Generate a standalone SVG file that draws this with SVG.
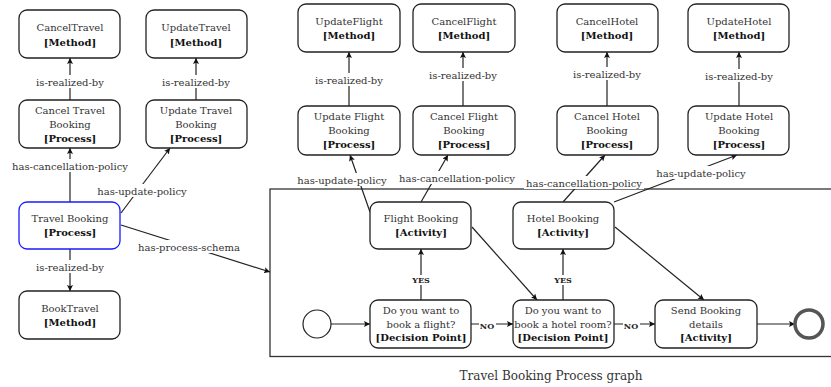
<svg xmlns="http://www.w3.org/2000/svg" width="831" height="387" viewBox="0 0 831 387">
<style>
.n rect{fill:#fff;stroke:#222;stroke-width:1.3}
.t{font-family:"DejaVu Serif",serif;font-size:10px;fill:#333;text-anchor:middle}
.b{font-weight:bold;fill:#111}
.l{font-family:"DejaVu Serif",serif;font-size:10px;fill:#333;text-anchor:middle}
.yn{font-family:"DejaVu Serif",serif;font-size:8px;font-weight:bold;fill:#222;text-anchor:middle}
.c line{stroke:#222;stroke-width:1.2;marker-end:url(#a)}
.bg{fill:#fff}
</style>
<defs>
<marker id="a" viewBox="0 0 10 10" refX="10" refY="5" markerWidth="6" markerHeight="6" orient="auto" markerUnits="userSpaceOnUse"><path d="M0,0 L10,5 L0,10 L2,5 z" fill="#111"/></marker>
</defs>
<g id="process-graph"><rect x="270" y="189" width="580" height="167.5" fill="none" stroke="#333" stroke-width="1.3"/>
<text class="t" x="551" y="380" style="font-size:12px">Travel Booking Process graph</text></g>
<g class="c" id="connectors">
<line x1="70" y1="100" x2="70" y2="58"/>
<line x1="196" y1="100" x2="196" y2="58"/>
<line x1="70" y1="202" x2="70" y2="148"/>
<line x1="121" y1="213" x2="170" y2="148"/>
<line x1="70" y1="249" x2="70" y2="291"/>
<line x1="121" y1="225" x2="270" y2="272"/>
<line x1="349" y1="106" x2="349" y2="52"/>
<line x1="463" y1="106" x2="463" y2="52"/>
<line x1="370" y1="212" x2="350" y2="155"/>
<line x1="421" y1="202" x2="448" y2="155"/>
<line x1="607" y1="106" x2="607" y2="52"/>
<line x1="739" y1="106" x2="739" y2="52"/>
<line x1="563" y1="202" x2="605" y2="155"/>
<line x1="614" y1="202" x2="737" y2="155"/>
<line x1="331" y1="324" x2="370" y2="324"/>
<line x1="421" y1="300" x2="421" y2="249"/>
<line x1="471" y1="324" x2="513" y2="324"/>
<line x1="472" y1="227" x2="537" y2="300"/>
<line x1="563" y1="300" x2="563" y2="249"/>
<line x1="614" y1="324" x2="655" y2="324"/>
<line x1="615" y1="227" x2="704" y2="300"/>
<line x1="757" y1="324" x2="795" y2="324"/>
<g id="labels">
<rect class="bg" x="33" y="75" width="74" height="13"/><text class="l" x="70" y="86">is-realized-by</text>
<rect class="bg" x="159" y="75" width="74" height="13"/><text class="l" x="196" y="86">is-realized-by</text>
<rect class="bg" x="10" y="159" width="120" height="13"/><text class="l" x="70" y="170">has-cancellation-policy</text>
<rect class="bg" x="95" y="184" width="94" height="13"/><text class="l" x="142" y="195">has-update-policy</text>
<rect class="bg" x="33" y="260" width="74" height="13"/><text class="l" x="70" y="271">is-realized-by</text>
<rect class="bg" x="139" y="240" width="100" height="13"/><text class="l" x="189" y="251">has-process-schema</text>
<rect class="bg" x="312" y="73" width="74" height="13"/><text class="l" x="349" y="84">is-realized-by</text>
<rect class="bg" x="426" y="68" width="74" height="13"/><text class="l" x="463" y="79">is-realized-by</text>
<rect class="bg" x="295" y="173" width="94" height="13"/><text class="l" x="342" y="184">has-update-policy</text>
<rect class="bg" x="397" y="171" width="120" height="13"/><text class="l" x="457" y="182">has-cancellation-policy</text>
<rect class="bg" x="570" y="67" width="74" height="13"/><text class="l" x="607" y="78">is-realized-by</text>
<rect class="bg" x="702" y="69" width="74" height="13"/><text class="l" x="739" y="80">is-realized-by</text>
<rect class="bg" x="524" y="176" width="120" height="13"/><text class="l" x="584" y="187">has-cancellation-policy</text>
<rect class="bg" x="654" y="166" width="94" height="13"/><text class="l" x="701" y="177">has-update-policy</text>
<rect class="bg" x="410" y="275" width="22" height="10"/><text class="yn" x="421" y="283">YES</text>
<rect class="bg" x="552" y="275" width="22" height="10"/><text class="yn" x="563" y="283">YES</text>
<rect class="bg" x="479" y="321" width="17" height="9"/><text class="yn" x="487" y="329">NO</text>
<rect class="bg" x="623" y="321" width="17" height="9"/><text class="yn" x="631" y="329">NO</text>
</g>
</g>
<g class="n" id="CancelTravel"><rect x="19" y="10" width="101" height="48" rx="8"/><text class="t" x="70" y="31">CancelTravel</text><text class="t b" x="70" y="46">[Method]</text></g>
<g class="n" id="UpdateTravel"><rect x="146" y="10" width="101" height="48" rx="8"/><text class="t" x="196" y="31">UpdateTravel</text><text class="t b" x="196" y="46">[Method]</text></g>
<g class="n" id="CancelTravelBooking"><rect x="19" y="100" width="101" height="48" rx="8"/><text class="t" x="70" y="114">Cancel Travel</text><text class="t" x="70" y="128">Booking</text><text class="t b" x="70" y="142">[Process]</text></g>
<g class="n" id="UpdateTravelBooking"><rect x="146" y="100" width="101" height="48" rx="8"/><text class="t" x="196" y="114">Update Travel</text><text class="t" x="196" y="128">Booking</text><text class="t b" x="196" y="142">[Process]</text></g>
<g class="n" id="TravelBooking"><rect x="19" y="202" width="101" height="47" rx="8" style="stroke:#1a1aff"/><text class="t" x="70" y="222">Travel Booking</text><text class="t b" x="70" y="236">[Process]</text></g>
<g class="n" id="BookTravel"><rect x="19" y="291" width="101" height="48" rx="8"/><text class="t" x="70" y="312">BookTravel</text><text class="t b" x="70" y="326">[Method]</text></g>
<g class="n" id="UpdateFlight"><rect x="298" y="4" width="102" height="48" rx="8"/><text class="t" x="349" y="25">UpdateFlight</text><text class="t b" x="349" y="39">[Method]</text></g>
<g class="n" id="CancelFlight"><rect x="413" y="4" width="102" height="48" rx="8"/><text class="t" x="464" y="25">CancelFlight</text><text class="t b" x="464" y="39">[Method]</text></g>
<g class="n" id="CancelHotel"><rect x="557" y="4" width="101" height="48" rx="8"/><text class="t" x="607" y="25">CancelHotel</text><text class="t b" x="607" y="39">[Method]</text></g>
<g class="n" id="UpdateHotel"><rect x="688" y="4" width="101" height="48" rx="8"/><text class="t" x="739" y="25">UpdateHotel</text><text class="t b" x="739" y="39">[Method]</text></g>
<g class="n" id="UpdateFlightBooking"><rect x="298" y="106" width="102" height="49" rx="8"/><text class="t" x="349" y="120">Update Flight</text><text class="t" x="349" y="134">Booking</text><text class="t b" x="349" y="148">[Process]</text></g>
<g class="n" id="CancelFlightBooking"><rect x="413" y="106" width="102" height="49" rx="8"/><text class="t" x="464" y="120">Cancel Flight</text><text class="t" x="464" y="134">Booking</text><text class="t b" x="464" y="148">[Process]</text></g>
<g class="n" id="CancelHotelBooking"><rect x="557" y="106" width="101" height="49" rx="8"/><text class="t" x="607" y="120">Cancel Hotel</text><text class="t" x="607" y="134">Booking</text><text class="t b" x="607" y="148">[Process]</text></g>
<g class="n" id="UpdateHotelBooking"><rect x="688" y="106" width="101" height="49" rx="8"/><text class="t" x="739" y="120">Update Hotel</text><text class="t" x="739" y="134">Booking</text><text class="t b" x="739" y="148">[Process]</text></g>
<g class="n" id="FlightBooking"><rect x="370" y="202" width="101" height="47" rx="8"/><text class="t" x="421" y="222">Flight Booking</text><text class="t b" x="421" y="236">[Activity]</text></g>
<g class="n" id="HotelBooking"><rect x="513" y="202" width="101" height="47" rx="8"/><text class="t" x="563" y="222">Hotel Booking</text><text class="t b" x="563" y="236">[Activity]</text></g>
<g class="n" id="DecisionFlight"><rect x="370" y="300" width="101" height="48" rx="8"/><text class="t" x="421" y="314">Do you want to</text><text class="t" x="421" y="328">book a flight?</text><text class="t b" x="421" y="341">[Decision Point]</text></g>
<g class="n" id="DecisionHotel"><rect x="513" y="300" width="101" height="48" rx="8"/><text class="t" x="563" y="314">Do you want to</text><text class="t" x="563" y="328">book a hotel room?</text><text class="t b" x="563" y="341">[Decision Point]</text></g>
<g class="n" id="SendBooking"><rect x="655" y="300" width="102" height="48" rx="8"/><text class="t" x="706" y="314">Send Booking</text><text class="t" x="706" y="328">details</text><text class="t b" x="706" y="341">[Activity]</text></g>
<g id="Start"><circle cx="317" cy="324" r="14" fill="#fff" stroke="#222" stroke-width="1.2"/></g>
<g id="End"><circle cx="809" cy="324" r="14" fill="#fff" stroke="#555" stroke-width="3.5"/></g>
</svg>
